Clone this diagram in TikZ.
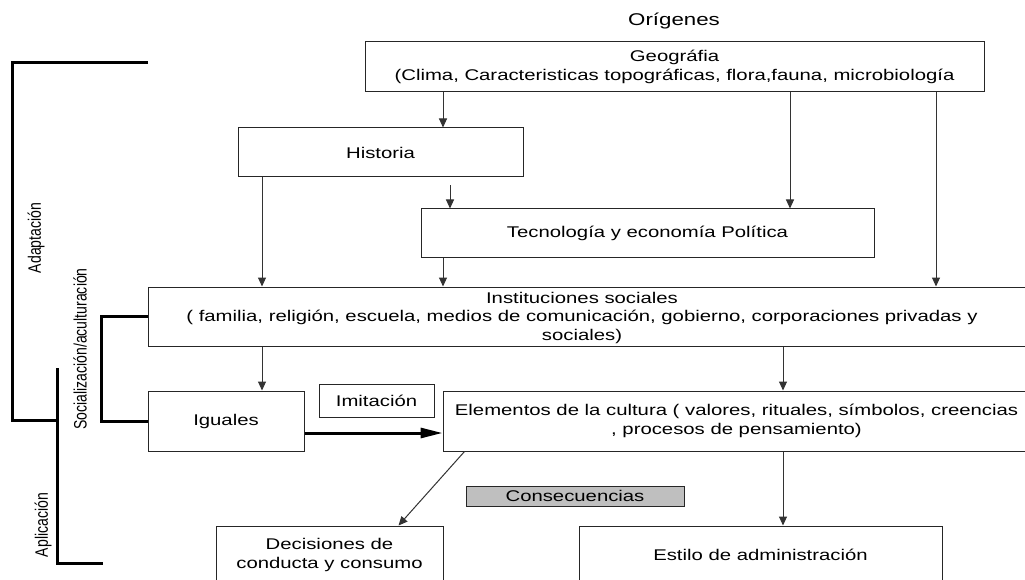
\documentclass[tikz,border=0pt]{standalone}
\usepackage{fontspec}
\setmainfont{Liberation Sans}[FakeStretch=1.31]
\newfontfamily\sidefont{Liberation Sans}[FakeStretch=0.78]
\usetikzlibrary{arrows.meta,calc}

\tikzset{
  box/.style={draw=black!85, line width=1pt, rectangle, inner sep=0pt, align=center,
    font=\fontsize{15.5}{18.5}\selectfont},
  lbl/.style={inner sep=0pt, align=center, font=\fontsize{15.5}{18.5}\selectfont},
  conn/.style={draw=black!80, line width=1pt, -{Triangle[length=9pt,width=8pt]}},
  bigconn/.style={draw=black, line width=3pt, -{Triangle[length=22pt,width=10pt]}},
  bracket/.style={draw=black, line width=3pt},
  side/.style={inner sep=0pt, rotate=90, font=\sidefont\fontsize{18}{20}\selectfont},
}

\begin{document}
\begin{tikzpicture}[x=1pt, y=-1pt]
\useasboundingbox (0,0) rectangle (1025,580);
\clip (0,0) rectangle (1025,580);
\fill[white] (0,0) rectangle (1025,580);

% title
\node[lbl, font=\fontsize{17}{20}\selectfont] (orig) at (674,21) {Orígenes};

% boxes
\node[box, minimum width=619pt, minimum height=50pt] (geo) at (674.5,67)
  {Geográfia\\(Clima, Caracteristicas topográficas, flora,fauna, microbiología};
\node[box, minimum width=285pt, minimum height=49pt] (hist) at (380.5,152.5) {Historia};
\node[box, minimum width=453pt, minimum height=48pt] (tec) at (647.5,233)
  {Tecnología y economía Política};
\node[box, minimum width=882pt, minimum height=59pt] (inst) at (589,316.5) {};
\node[lbl] (instlbl) at (582,317.5)
  {Instituciones sociales\\( familia, religión, escuela, medios de comunicación, gobierno, corporaciones privadas y\\sociales)};
\node[box, minimum width=156pt, minimum height=60pt] (iguales) at (226,421) {Iguales};
\node[box, minimum width=115pt, minimum height=33pt] (imit) at (376.5,400.5) {Imitación};
\node[box, minimum width=587pt, minimum height=60pt] (elem) at (736.5,421)
  {Elementos de la cultura ( valores, rituales, símbolos, creencias\\, procesos de pensamiento)};
\node[box, fill=black!25, minimum width=218pt, minimum height=20pt] (cons) at (575,496) {Consecuencias};
\node[box, minimum width=227pt, minimum height=58pt] (dec) at (329.5,555)
  {Decisiones de\\conducta y consumo};
\node[box, minimum width=363pt, minimum height=58pt] (estilo) at (760.5,555)
  {Estilo de administración};

% columns used by the vertical connectors
\coordinate (ca) at (443,0);
\coordinate (cb) at (790,0);
\coordinate (cc) at (936,0);
\coordinate (cd) at (262,0);
\coordinate (ce) at (450,0);
\coordinate (cf) at (783,0);

% connectors
\draw[conn] (geo.south -| ca) -- (hist.north -| ca);
\draw[conn] (geo.south -| cb) -- (tec.north -| cb);
\draw[conn] (geo.south -| cc) -- (inst.north -| cc);
\draw[conn] (hist.south -| cd) -- (inst.north -| cd);
\draw[conn] ([yshift=-8pt]hist.south -| ce) -- (tec.north -| ce);
\draw[conn] (tec.south -| ca) -- (inst.north -| ca);
\draw[conn] (inst.south -| cd) -- (iguales.north -| cd);
\draw[conn] (inst.south -| cf) -- (elem.north -| cf);
\draw[bigconn] ([yshift=-12pt]iguales.east) -- ([yshift=-12pt]iguales.east -| elem.west);
\draw[conn] ($(elem.south west)+(22,0)$) -- ($(dec.north west)+(183,0)$);
\draw[conn] (elem.south -| cf) -- (estilo.north -| cf);

% side brackets
\coordinate (adtop) at (148,63);
\coordinate (adcorner) at (12,63);
\coordinate (adend) at (57,420);
\draw[bracket] (adtop) -- (adcorner) |- (adend);
\coordinate (aptop) at (57,368);
\coordinate (apend) at (103,563);
\draw[bracket] (aptop) |- (apend);
\draw[bracket] (inst.west) -- ++(-46,0) |- (iguales.west);

% side labels
\node[side] (adap) at (36,238) {Adaptación};
\node[side] (socia) at (80,349) {Socialización/aculturación};
\node[side] (aplic) at (43,525) {Aplicación};
\end{tikzpicture}
\end{document}
